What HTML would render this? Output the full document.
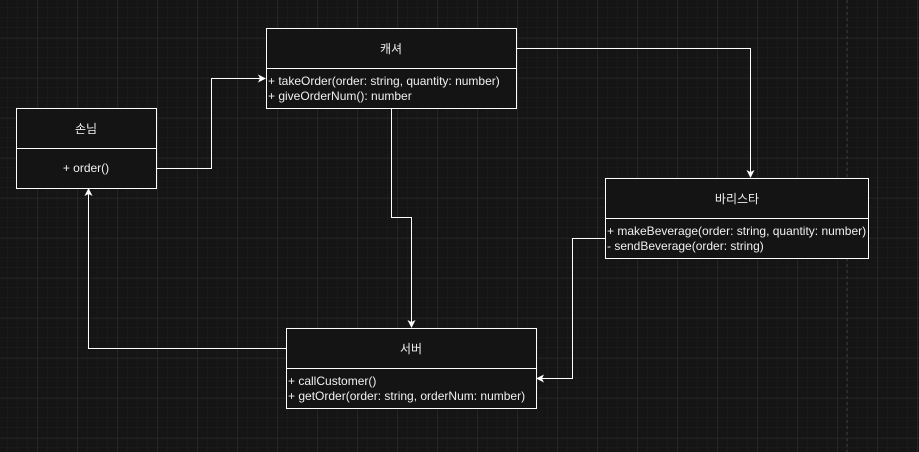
<!DOCTYPE html>
<html><head><meta charset="utf-8"><style>
html,body{margin:0;padding:0;background:#151515;}
svg{display:block}
text{font-family:"Liberation Sans","Noto Sans CJK KR",sans-serif;font-size:12px;fill:#f0f0f0}
</style></head><body>
<svg width="919" height="452" xmlns="http://www.w3.org/2000/svg">
<defs>
<pattern id="mi" width="10" height="10" patternUnits="userSpaceOnUse" x="-2" y="-2">
<path d="M10 0V10M0 10H10" stroke="#1f1f1f" stroke-width="1" fill="none"/></pattern>
<pattern id="ma" width="40" height="40" patternUnits="userSpaceOnUse" x="-2.5" y="-1.5">
<path d="M40 0V40M0 40H40" stroke="#2c2c2c" stroke-width="1" fill="none"/></pattern>
</defs>
<rect width="919" height="452" fill="#151515"/>
<rect width="919" height="452" fill="url(#mi)"/>
<rect width="919" height="452" fill="url(#ma)"/>
<line x1="847" y1="0" x2="847" y2="452" stroke="#3a3a3a" stroke-dasharray="3,3"/>
<g fill="none" stroke="#fff" stroke-width="1">
<polyline points="156.5,168.5 211.5,168.5 211.5,78.5 260,78.5"/>
<polyline points="516.5,48.5 750.5,48.5 750.5,172"/>
<polyline points="391.5,108.5 391.5,217.5 411.5,217.5 411.5,322"/>
<polyline points="605.5,238.5 572.5,238.5 572.5,378.5 542,378.5"/>
<polyline points="286.5,348.5 88.5,348.5 88.5,194"/>
</g>
<g fill="#fff">
<path d="M266,78.5 L258,74.5 L260,78.5 L258,82.5Z"/>
<path d="M750.5,178 L746.5,170 L750.5,172 L754.5,170Z"/>
<path d="M411.5,328 L407.5,320 L411.5,322 L415.5,320Z"/>
<path d="M536,378.5 L544,374.5 L542,378.5 L544,382.5Z"/>
<path d="M88.5,188 L84.5,196 L88.5,194 L92.5,196Z"/>
</g>
<g fill="#141414" stroke="#fff" stroke-width="1">
<rect x="16.5" y="108.5" width="140" height="80"/><line x1="16.5" y1="148.5" x2="156.5" y2="148.5"/>
<rect x="266.5" y="28.5" width="250" height="80"/><line x1="266.5" y1="68.5" x2="516.5" y2="68.5"/>
<rect x="605.5" y="178.5" width="263" height="80"/><line x1="605.5" y1="218.5" x2="868.5" y2="218.5"/>
<rect x="286.5" y="328.5" width="250" height="80"/><line x1="286.5" y1="368.5" x2="536.5" y2="368.5"/>
</g>
<text x="86" y="133" text-anchor="middle">손님</text>
<text x="86" y="172" text-anchor="middle">+ order()</text>
<text x="391" y="53" text-anchor="middle">캐셔</text>
<text x="268" y="85">+ takeOrder(order: string, quantity: number)</text>
<text x="268" y="100">+ giveOrderNum(): number</text>
<text x="737" y="203" text-anchor="middle">바리스타</text>
<text x="607" y="235">+ makeBeverage(order: string, quantity: number)</text>
<text x="607" y="250">- sendBeverage(order: string)</text>
<text x="411" y="353" text-anchor="middle">서버</text>
<text x="288" y="385">+ callCustomer()</text>
<text x="288" y="400">+ getOrder(order: string, orderNum: number)</text>
</svg>
</body></html>
